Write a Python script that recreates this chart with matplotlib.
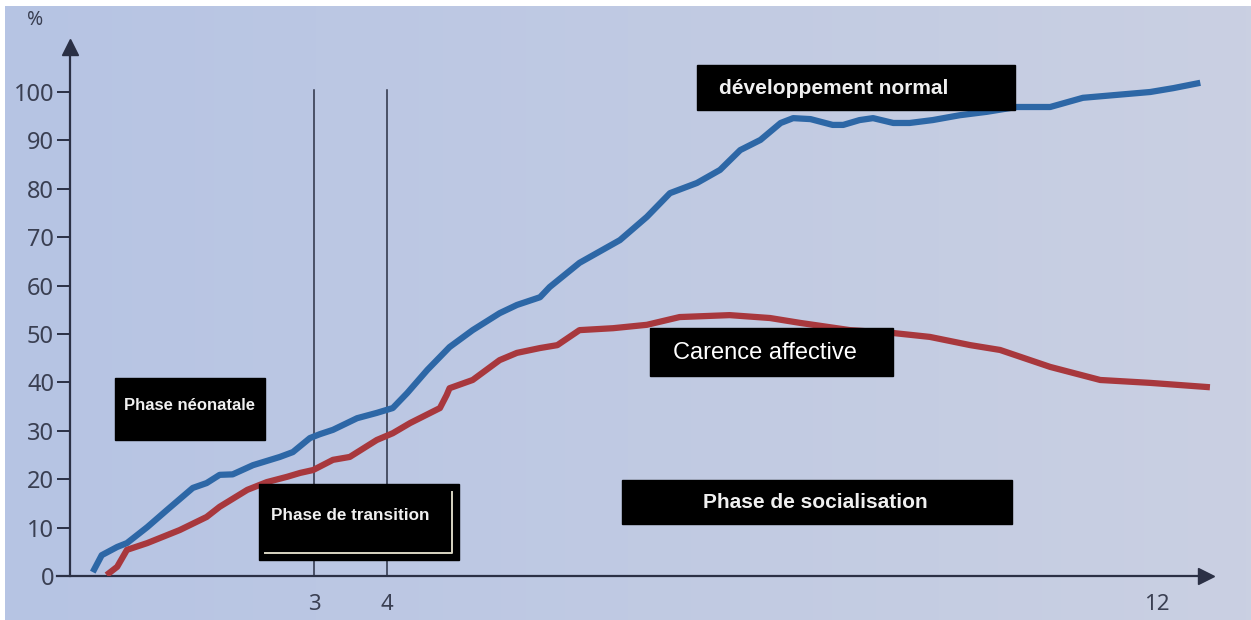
import numpy as np
import matplotlib.pyplot as plt
from matplotlib.patches import Rectangle

# data (x in weeks, y in %)
weeks_normal = [0.28, 0.39, 0.58, 0.70, 0.95, 1.19, 1.51, 1.68, 1.84, 2.00, 2.25, 2.58, 2.74, 2.95,
                3.08, 3.26, 3.59, 3.86, 4.06, 4.21, 4.42, 4.65, 4.89, 5.17, 5.35, 5.59, 5.69, 6.00,
                6.42, 6.70, 6.94, 7.22, 7.46, 7.67, 7.88, 8.09, 8.22, 8.40, 8.63, 8.74, 8.91, 9.05,
                9.26, 9.43, 9.67, 9.95, 10.23, 10.54, 10.89, 11.23, 11.58, 11.93, 12.17, 12.45]
pct_normal = [0.8, 4.3, 6.0, 6.8, 10.1, 13.6, 18.2, 19.2, 20.9, 21.0, 22.9, 24.6, 25.6, 28.5,
              29.3, 30.2, 32.6, 33.7, 34.7, 37.8, 42.6, 47.3, 50.8, 54.3, 56.0, 57.6, 59.7, 64.7,
              69.4, 74.2, 79.1, 81.2, 83.9, 88.0, 90.1, 93.6, 94.6, 94.4, 93.2, 93.2, 94.2, 94.6,
              93.6, 93.6, 94.2, 95.2, 95.9, 96.9, 96.9, 98.8, 99.4, 100.0, 100.8, 101.9]

weeks_carence = [0.45, 0.58, 0.70, 0.95, 1.35, 1.68, 1.84, 2.18, 2.42, 2.67, 2.83, 2.99, 3.26,
                 3.49, 3.86, 4.06, 4.24, 4.55, 4.62, 4.65, 4.89, 5.17, 5.35, 5.59, 5.77, 6.00,
                 6.35, 6.70, 7.04, 7.56, 7.98, 8.29, 8.81, 9.26, 9.64, 10.06, 10.37, 10.89,
                 11.41, 11.93, 12.55]
pct_carence = [0.2, 1.9, 5.4, 6.8, 9.5, 12.2, 14.3, 17.8, 19.4, 20.5, 21.3, 21.9, 24.0,
               24.6, 28.1, 29.5, 31.6, 34.7, 37.4, 38.8, 40.5, 44.6, 46.1, 47.1, 47.7, 50.8,
               51.2, 51.9, 53.5, 53.9, 53.3, 52.3, 50.8, 50.2, 49.4, 47.7, 46.7, 43.2,
               40.5, 39.9, 39.0]

phase_limits = [3, 4]
x_ticks = [3, 4, 12]
x_ticklabels = ["3", "4", "12"]
y_ticks = list(range(0, 101, 10))

# the printed x axis is not evenly spaced: piecewise mapping weeks -> drawing position
KNOT_W = np.array([-1, 0, 3, 4, 12, 14])
KNOT_P = np.array([-11.33, 70, 314, 387, 1157, 1349.5])

def fwd(w):
    return np.interp(w, KNOT_W, KNOT_P)

def inv(p):
    return np.interp(p, KNOT_P, KNOT_W)

W, H = 1251, 620
AX_COL = "#2b3045"
TXT_COL = "#3a3f52"
BLUE = "#2d67a6"
RED = "#a8383d"

def fx(px):
    return px / W

def fy(py):
    return 1 - py / H

fig = plt.figure(figsize=(W / 100, H / 100), dpi=100)
fig.patch.set_facecolor("white")

# paper background (photo, slightly bluer on the left)
bg = fig.add_axes([0.004, 0, 0.996, 0.99], zorder=-10)
grad = np.linspace(0, 1, 256)
c0 = np.array([182, 196, 228]) / 255
c1 = np.array([202, 208, 226]) / 255
img = c0[None, :] * (1 - grad[:, None]) + c1[None, :] * grad[:, None]
bg.imshow(img[None, :, :], aspect="auto", extent=[0, 1, 0, 1])
bg.axis("off")

ax = fig.add_axes([fx(57), fy(576), fx(1215) - fx(57), fy(35) - fy(576)])
ax.patch.set_alpha(0)
ax.set_xscale("function", functions=(fwd, inv))
ax.set_xlim(inv(57), inv(1215))
ax.set_ylim(0, (576 - 35) / 4.84)

ax.plot(weeks_normal, pct_normal, color=BLUE, lw=4.5, solid_capstyle="butt", zorder=3)
ax.plot(weeks_carence, pct_carence, color=RED, lw=4.5, solid_capstyle="butt", zorder=3)

for w in phase_limits:
    ax.plot([w, w], [0, 100.5], color=AX_COL, lw=1.1, zorder=2)

for s in ["top", "right"]:
    ax.spines[s].set_visible(False)
ax.spines["left"].set_position(("data", 0))
ax.spines["left"].set_bounds(0, 108)
ax.spines["bottom"].set_bounds(inv(57), inv(1205))
for s in ["left", "bottom"]:
    ax.spines[s].set_color(AX_COL)
    ax.spines[s].set_linewidth(1.6)

# arrow heads
ax.plot(0, 109.2, marker="^", ms=11, color=AX_COL, clip_on=False, zorder=4)
ax.plot(inv(1206), 0, marker=">", ms=11, color=AX_COL, clip_on=False, zorder=4)

ax.set_yticks(y_ticks)
ax.set_xticks(x_ticks)
ax.set_xticklabels(x_ticklabels)
ax.tick_params(axis="y", length=9.5, width=1.4, color=AX_COL, pad=2,
               labelsize=17, labelcolor=TXT_COL)
ax.tick_params(axis="x", length=0, pad=13, labelsize=16, labelcolor=TXT_COL)
ax.xaxis.set_minor_locator(plt.NullLocator())
for lab in ax.get_xticklabels() + ax.get_yticklabels():
    lab.set_family("Noto Sans")

fig.text(fx(35), fy(20), "%", fontsize=14, color=TXT_COL, family="Noto Sans",
         ha="center", va="center")

# black label boxes
def box(x0, y0, x1, y1):
    fig.add_artist(Rectangle((fx(x0), fy(y1)), fx(x1) - fx(x0), fy(y0) - fy(y1),
                             transform=fig.transFigure, color="black", zorder=5))

box(115, 378, 265, 440)
fig.text(fx(190), fy(406), "Phase néonatale", color="#f0f0f0", fontsize=12,
         weight="bold", family="Liberation Sans", ha="center", va="center", zorder=6)

box(259, 484, 459, 560)
fig.text(fx(271), fy(516), "Phase de transition", color="#f0f0f0", fontsize=12.3,
         weight="bold", family="Liberation Sans", ha="left", va="center", zorder=6)
fig.add_artist(plt.Line2D([fx(265), fx(452), fx(452)], [fy(553), fy(553), fy(492)],
                          transform=fig.transFigure, color="#d9d5c2", lw=1.4, zorder=6))

box(622, 480, 1012, 524)
fig.text(fx(815), fy(503), "Phase de socialisation", color="#f0f0f0", fontsize=15,
         weight="bold", family="Liberation Sans", ha="center", va="center", zorder=6)

box(697, 65, 1015, 110)
fig.text(fx(719), fy(88), "développement normal", color="#f0f0f0", fontsize=15,
         weight="bold", family="Liberation Sans", ha="left", va="center", zorder=6)

box(650, 328, 893, 376)
fig.text(fx(673), fy(353), "Carence affective", color="white", fontsize=17,
         family="Liberation Sans", ha="left", va="center", zorder=6)

fig.savefig("out.png", dpi=100)
